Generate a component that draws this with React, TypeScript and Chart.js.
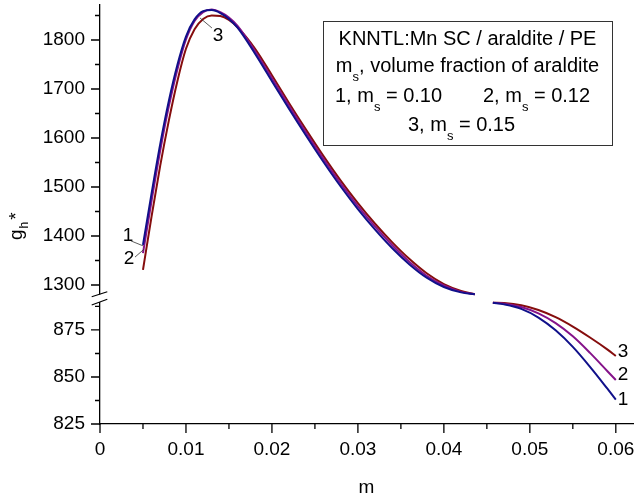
import React, { useEffect, useRef } from 'react';
import { Chart, registerables } from 'chart.js';

Chart.register(...registerables);

const FONT = '"Liberation Sans", Arial, Helvetica, sans-serif';

// ---- data ----
const X_UPPER = [0.005, 0.006, 0.007, 0.008, 0.009, 0.010, 0.011, 0.012, 0.013, 0.014, 0.015, 0.016, 0.018, 0.020, 0.022, 0.024, 0.026, 0.028, 0.030, 0.032, 0.034, 0.036, 0.038, 0.040, 0.042, 0.0436];
const S1_UPPER = [1382, 1487, 1587, 1675, 1749, 1807, 1842, 1859, 1861, 1855, 1843, 1825, 1773, 1716, 1659, 1604, 1551, 1501, 1455, 1413, 1375, 1342, 1315, 1296, 1285, 1281];
const S2_UPPER = [1365, 1472, 1574, 1664, 1740, 1801, 1839, 1857, 1862, 1857, 1846, 1829, 1778, 1722, 1665, 1610, 1557, 1507, 1461, 1419, 1381, 1347, 1319, 1299, 1286, 1281];
const S3_UPPER = [1331, 1440, 1543, 1635, 1716, 1782, 1822, 1843, 1850, 1849, 1841, 1826, 1783, 1728, 1671, 1616, 1563, 1513, 1467, 1425, 1387, 1353, 1324, 1302, 1288, 1281];

const X_LOWER = [0.0457, 0.047, 0.049, 0.051, 0.053, 0.055, 0.057, 0.059, 0.060];
const S1_LOWER = [889.5, 888.6, 886.2, 881.6, 874.8, 866.0, 855.4, 843.9, 838.0];
const S2_LOWER = [889.5, 889.0, 887.2, 883.8, 878.6, 871.6, 862.8, 853.2, 848.4];
const S3_LOWER = [889.5, 889.3, 888.1, 885.6, 881.8, 876.8, 871.0, 864.7, 861.2];

const SERIES_NAMES = ['1', '2', '3'];
const SERIES_COLORS = ['#10108a', '#85138a', '#850d0d'];

const X_TICKS = [0, 0.01, 0.02, 0.03, 0.04, 0.05, 0.06];
const X_TICK_LABELS = ['0', '0.01', '0.02', '0.03', '0.04', '0.05', '0.06'];
const X_MINOR = [0.005, 0.015, 0.025, 0.035, 0.045, 0.055];
const Y_UP_TICKS = [1300, 1400, 1500, 1600, 1700, 1800];
const Y_UP_MINOR = [1350, 1450, 1550, 1650, 1750, 1850];
const Y_LO_TICKS = [825, 850, 875];
const Y_LO_MINOR = [837.5, 862.5, 887.5];

const LEGEND_LINE1 = 'KNNTL:Mn SC / araldite / PE';
const LEGEND_LINE2 = ', volume fraction of araldite';
const LEGEND_VALUES = ['0.10', '0.12', '0.15'];

const pts = (xs: number[], ys: number[]) => xs.map((x, i) => ({ x, y: ys[i] }));

type Seg = { t: string; sub?: boolean };

function drawRich(ctx: CanvasRenderingContext2D, segs: Seg[], x: number, y: number, size: number, subSize: number, subOff: number) {
  let cx = x;
  for (const s of segs) {
    ctx.font = `${s.sub ? subSize : size}px ${FONT}`;
    ctx.fillText(s.t, cx, s.sub ? y + subOff : y);
    cx += ctx.measureText(s.t).width;
  }
  return cx - x;
}

function richWidth(ctx: CanvasRenderingContext2D, segs: Seg[], size: number, subSize: number) {
  let w = 0;
  for (const s of segs) {
    ctx.font = `${s.sub ? subSize : size}px ${FONT}`;
    w += ctx.measureText(s.t).width;
  }
  return w;
}

const decorPlugin = {
  id: 'decor',
  afterDraw(chart: any) {
    const ctx: CanvasRenderingContext2D = chart.ctx;
    const xs = chart.scales.x;
    const yu = chart.scales.yUp;
    const yl = chart.scales.yLo;
    const axisY = chart.chartArea.bottom;
    const axisX = chart.chartArea.left;
    ctx.save();
    // tick marks
    ctx.strokeStyle = '#000';
    ctx.lineWidth = 1.3;
    ctx.beginPath();
    X_TICKS.forEach(v => { const p = xs.getPixelForValue(v); ctx.moveTo(p, axisY); ctx.lineTo(p, axisY + 9); });
    X_MINOR.forEach(v => { const p = xs.getPixelForValue(v); ctx.moveTo(p, axisY); ctx.lineTo(p, axisY + 5); });
    Y_UP_TICKS.forEach(v => { const p = yu.getPixelForValue(v); ctx.moveTo(axisX, p); ctx.lineTo(axisX - 9, p); });
    Y_UP_MINOR.forEach(v => { const p = yu.getPixelForValue(v); ctx.moveTo(axisX, p); ctx.lineTo(axisX - 5, p); });
    Y_LO_TICKS.forEach(v => { const p = yl.getPixelForValue(v); ctx.moveTo(axisX, p); ctx.lineTo(axisX - 9, p); });
    Y_LO_MINOR.forEach(v => { const p = yl.getPixelForValue(v); ctx.moveTo(axisX, p); ctx.lineTo(axisX - 5, p); });
    ctx.stroke();

    // axis break marks
    const yb = yu.bottom;
    ctx.fillStyle = '#fff';
    ctx.fillRect(axisX - 2, yb - 3.5, 4, 7.5);
    ctx.beginPath();
    ctx.lineWidth = 1.2;
    ctx.moveTo(axisX - 8.3, yb - 1.3); ctx.lineTo(axisX + 7.3, yb - 6.3);
    ctx.moveTo(axisX - 8.3, yb + 7); ctx.lineTo(axisX + 7.3, yb + 1.3);
    ctx.stroke();

    // y axis title g_h*
    ctx.fillStyle = '#000';
    ctx.save();
    ctx.translate(22, 240);
    ctx.rotate(-Math.PI / 2);
    ctx.textAlign = 'left';
    ctx.textBaseline = 'alphabetic';
    ctx.font = `19px ${FONT}`;
    ctx.fillText('g', 0, 0);
    const wg = ctx.measureText('g').width;
    ctx.font = `12px ${FONT}`;
    ctx.fillText('h', wg + 1, 6);
    const wh = ctx.measureText('h').width;
    ctx.font = `19px ${FONT}`;
    ctx.fillText('*', wg + wh + 3, 0);
    ctx.restore();

    // curve labels
    ctx.font = `19px ${FONT}`;
    ctx.textAlign = 'center';
    ctx.textBaseline = 'middle';
    ctx.fillText(SERIES_NAMES[2], xs.getPixelForValue(0.01372), yu.getPixelForValue(1808));
    ctx.fillText(SERIES_NAMES[0], xs.getPixelForValue(0.00326), yu.getPixelForValue(1400));
    ctx.fillText(SERIES_NAMES[1], xs.getPixelForValue(0.00337), yu.getPixelForValue(1353));
    ctx.textAlign = 'left';
    ctx.fillText(SERIES_NAMES[2], xs.getPixelForValue(0.06023), yl.getPixelForValue(863.3));
    ctx.fillText(SERIES_NAMES[1], xs.getPixelForValue(0.06023), yl.getPixelForValue(851.1));
    ctx.fillText(SERIES_NAMES[0], xs.getPixelForValue(0.06023), yl.getPixelForValue(837.8));
    ctx.strokeStyle = '#333';
    ctx.lineWidth = 0.8;
    ctx.beginPath();
    ctx.moveTo(xs.getPixelForValue(0.01163), yu.getPixelForValue(1845));
    ctx.lineTo(xs.getPixelForValue(0.01302), yu.getPixelForValue(1824.5));
    ctx.moveTo(xs.getPixelForValue(0.0036), yu.getPixelForValue(1390));
    ctx.lineTo(xs.getPixelForValue(0.005), yu.getPixelForValue(1380));
    ctx.moveTo(xs.getPixelForValue(0.00407), yu.getPixelForValue(1357));
    ctx.lineTo(xs.getPixelForValue(0.00512), yu.getPixelForValue(1373));
    ctx.stroke();

    // legend box
    const bx = 323, by = 21, bw = 289, bh = 124;
    ctx.fillStyle = '#fff';
    ctx.fillRect(bx, by, bw, bh);
    ctx.strokeStyle = '#333';
    ctx.lineWidth = 1;
    ctx.strokeRect(bx + 0.5, by + 0.5, bw, bh);
    ctx.fillStyle = '#000';
    ctx.textAlign = 'left';
    ctx.textBaseline = 'alphabetic';
    const size = 20, sub = 13, off = 9;
    const cx = bx + bw / 2;
    const l1: Seg[] = [{ t: LEGEND_LINE1 }];
    const l2: Seg[] = [{ t: 'm' }, { t: 's', sub: true }, { t: LEGEND_LINE2 }];
    const l3a: Seg[] = [{ t: '1, m' }, { t: 's', sub: true }, { t: ' = ' + LEGEND_VALUES[0] }];
    const l3b: Seg[] = [{ t: '2, m' }, { t: 's', sub: true }, { t: ' = ' + LEGEND_VALUES[1] }];
    const l4: Seg[] = [{ t: '3, m' }, { t: 's', sub: true }, { t: ' = ' + LEGEND_VALUES[2] }];
    drawRich(ctx, l1, cx - richWidth(ctx, l1, size, sub) / 2, 45, size, sub, off);
    drawRich(ctx, l2, cx - richWidth(ctx, l2, size, sub) / 2, 72, size, sub, off);
    drawRich(ctx, l3a, 335, 101.5, size, sub, off);
    drawRich(ctx, l3b, 483, 101.5, size, sub, off);
    drawRich(ctx, l4, 408, 130.5, size, sub, off);
    ctx.restore();
  },
};

export default function App() {
  const ref = useRef<HTMLCanvasElement>(null);
  useEffect(() => {
    if (!ref.current) return;
    const tickFont = { size: 19, family: FONT };
    const yCommon = {
      type: 'linear' as const,
      position: 'left' as const,
      stack: 'g',
      grid: { display: false, drawTicks: false },
      border: { display: true, color: '#000', width: 1.3 },
      afterFit: (s: any) => { s.width = 100; s.paddingTop = 0; s.paddingBottom = 0; },
    };
    const datasets: any[] = [];
    const uppers = [S1_UPPER, S2_UPPER, S3_UPPER];
    const lowers = [S1_LOWER, S2_LOWER, S3_LOWER];
    for (let i = 0; i < 3; i++) {
      datasets.push({ label: SERIES_NAMES[i], data: pts(X_UPPER, uppers[i]), yAxisID: 'yUp', borderColor: SERIES_COLORS[i] });
      datasets.push({ label: SERIES_NAMES[i], data: pts(X_LOWER, lowers[i]), yAxisID: 'yLo', borderColor: SERIES_COLORS[i] });
    }
    const chart = new Chart(ref.current, {
      type: 'line',
      data: { datasets },
      options: {
        animation: false,
        responsive: true,
        maintainAspectRatio: false,
        layout: { padding: { left: 0, top: 5, right: 3, bottom: 0 } },
        plugins: { legend: { display: false }, tooltip: { enabled: false } },
        elements: {
          point: { radius: 0 },
          line: { borderWidth: 2, tension: 0.4, cubicInterpolationMode: 'monotone' },
        },
        scales: {
          x: {
            type: 'linear',
            position: 'bottom',
            min: 0,
            max: 0.062,
            afterBuildTicks: (s: any) => { s.ticks = X_TICKS.map(v => ({ value: v })); },
            afterFit: (s: any) => { s.height = 79; s.paddingLeft = 0; s.paddingRight = 0; },
            grid: { display: false, drawTicks: false },
            border: { display: true, color: '#000', width: 1.3 },
            ticks: {
              font: tickFont, color: '#000', padding: 14, maxRotation: 0, autoSkip: false,
              callback: (_v: any, i: number) => X_TICK_LABELS[i],
            },
            title: { display: true, text: 'm', font: { size: 19, family: FONT }, color: '#000', padding: { top: 0, bottom: 4 } },
          },
          yLo: {
            ...yCommon,
            stackWeight: 126,
            min: 825,
            max: 892,
            afterBuildTicks: (s: any) => { s.ticks = Y_LO_TICKS.map(v => ({ value: v })); },
            ticks: { font: tickFont, color: '#000', padding: 15, callback: (v: any) => String(v) },
          },
          yUp: {
            ...yCommon,
            stackWeight: 293,
            min: 1273.5,
            max: 1871.4,
            afterBuildTicks: (s: any) => { s.ticks = Y_UP_TICKS.map(v => ({ value: v })); },
            ticks: { font: tickFont, color: '#000', padding: 15, callback: (v: any) => String(v) },
          },
        },
      } as any,
      plugins: [decorPlugin],
    });
    return () => chart.destroy();
  }, []);
  return (
    <div style={{ position: 'fixed', left: 0, top: 0, width: 636, height: 503, background: '#fff' }}>
      <canvas ref={ref} />
    </div>
  );
}
